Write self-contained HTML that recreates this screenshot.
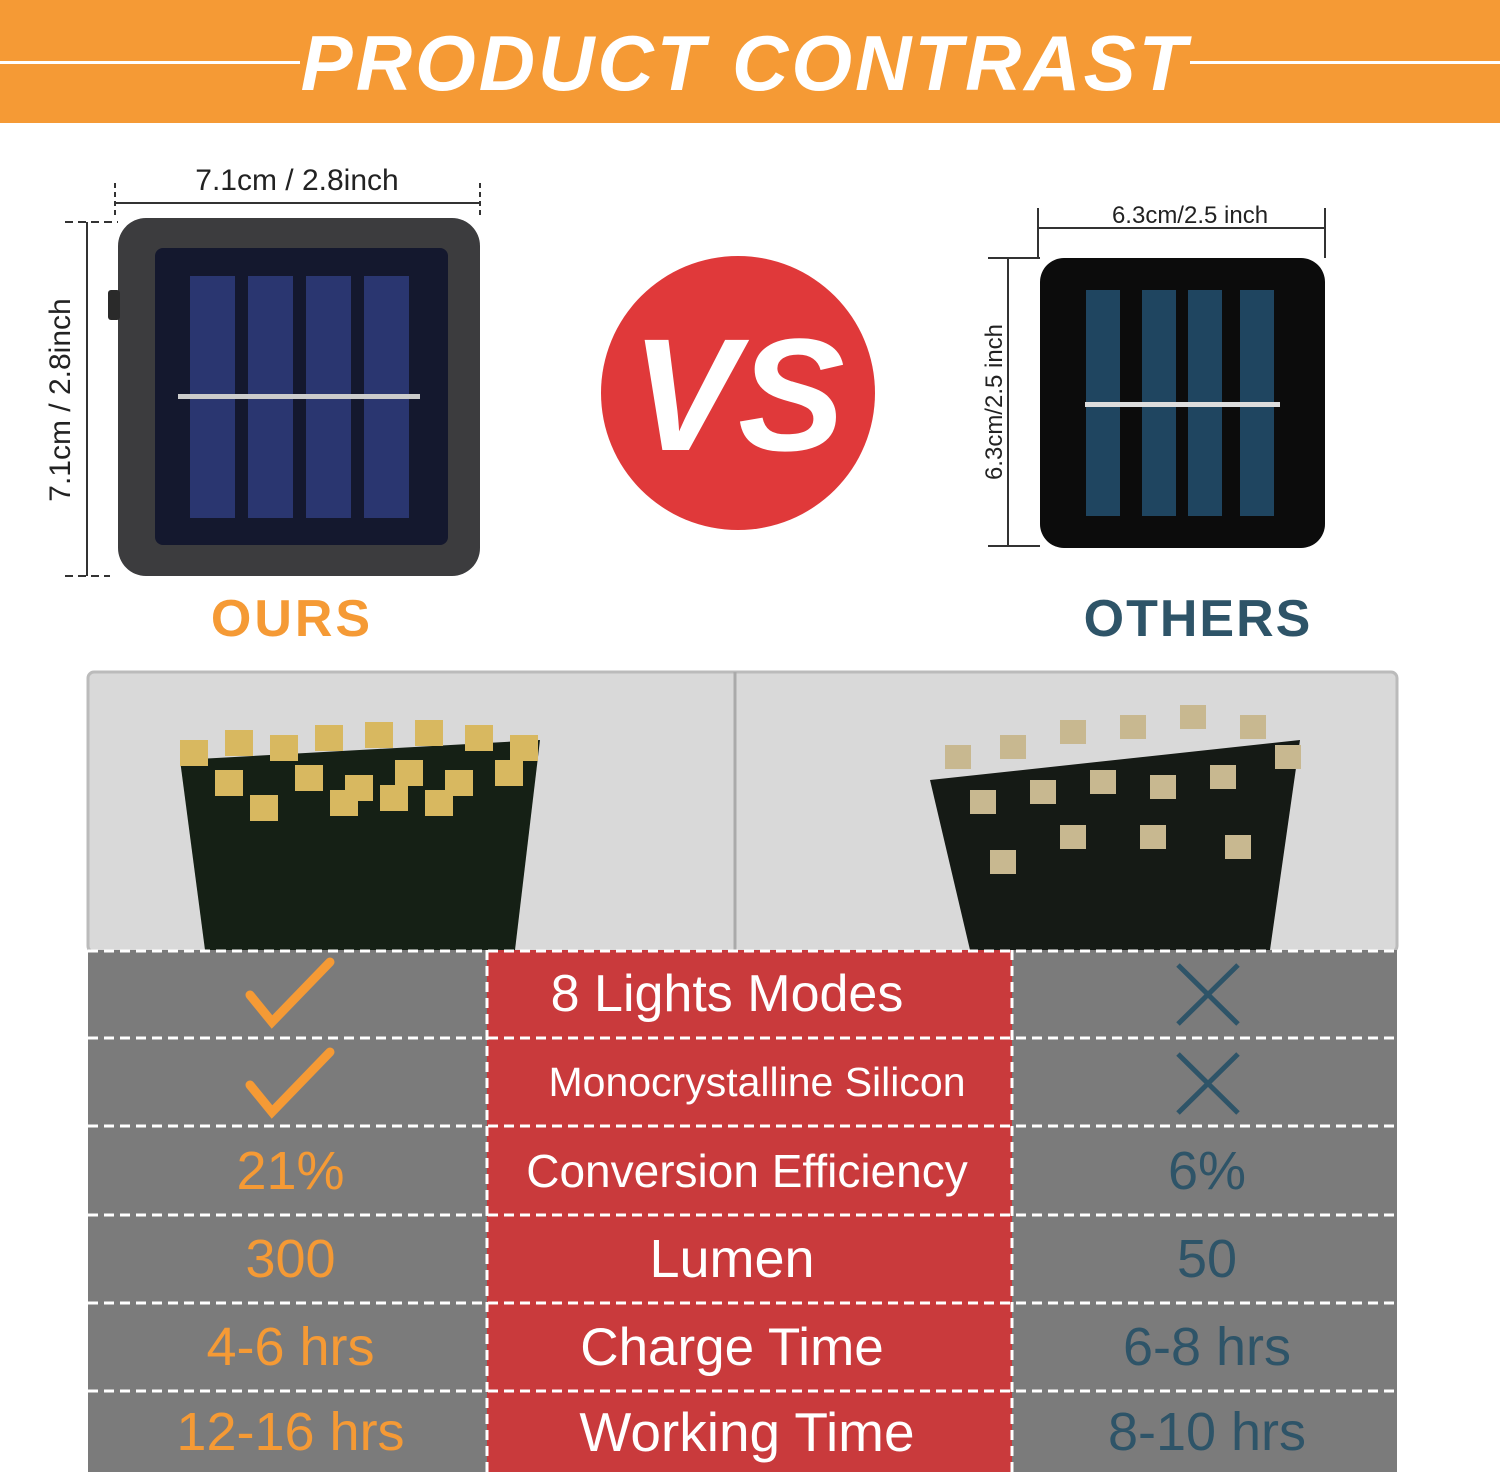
<!DOCTYPE html>
<html><head><meta charset="utf-8"><style>
body{margin:0;width:1500px;height:1477px;position:relative;background:#fff;overflow:hidden;font-family:"Liberation Sans","DejaVu Sans",sans-serif}
.a{position:absolute}
.cell{position:absolute;display:flex;align-items:center;justify-content:center;white-space:nowrap}
</style></head><body>
<div class="a" style="left:0;top:0;width:1500px;height:123px;background:#F59A35"></div>
<div class="a" style="left:0;top:61px;width:300px;height:3px;background:#fff"></div>
<div class="a" style="left:1190px;top:61px;width:310px;height:3px;background:#fff"></div>
<div class="cell" style="left:300px;top:18px;width:890px;height:90px;color:#fff;font-size:78px;font-weight:bold;font-style:italic;letter-spacing:3px">PRODUCT CONTRAST</div>

<svg class="a" style="left:0;top:123px" width="1500" height="830" viewBox="0 123 1500 830">
 <g stroke="#333" stroke-width="2" fill="none">
  <line x1="115" y1="203" x2="480" y2="203"/><line x1="115" y1="183" x2="115" y2="215" stroke-dasharray="5,4"/><line x1="480" y1="183" x2="480" y2="215" stroke-dasharray="5,4"/>
  <line x1="87" y1="222" x2="87" y2="576"/><line x1="65" y1="222" x2="118" y2="222" stroke-dasharray="8,5"/><line x1="65" y1="576" x2="110" y2="576" stroke-dasharray="8,5"/>
  <line x1="1038" y1="228" x2="1325" y2="228"/><line x1="1038" y1="208" x2="1038" y2="258"/><line x1="1325" y1="208" x2="1325" y2="258"/>
  <line x1="1008" y1="258" x2="1008" y2="546"/><line x1="988" y1="258" x2="1040" y2="258"/><line x1="988" y1="546" x2="1040" y2="546"/>
 </g>
 <text x="297" y="190" font-size="30" text-anchor="middle" fill="#222" font-family="Liberation Sans">7.1cm / 2.8inch</text>
 <text transform="translate(70,400) rotate(-90)" font-size="30" text-anchor="middle" fill="#222" font-family="Liberation Sans">7.1cm / 2.8inch</text>
 <text x="1190" y="223" font-size="24" text-anchor="middle" fill="#222" font-family="Liberation Sans">6.3cm/2.5 inch</text>
 <text transform="translate(1002,402) rotate(-90)" font-size="24" text-anchor="middle" fill="#222" font-family="Liberation Sans">6.3cm/2.5 inch</text>
 <rect x="118" y="218" width="362" height="358" rx="28" fill="#3c3c3e"/>
 <rect x="108" y="290" width="12" height="30" rx="3" fill="#2a2a2a"/>
 <rect x="155" y="248" width="293" height="297" rx="8" fill="#14182e"/>
 <g fill="#2a3670"><rect x="190" y="276" width="45" height="242"/><rect x="248" y="276" width="45" height="242"/><rect x="306" y="276" width="45" height="242"/><rect x="364" y="276" width="45" height="242"/></g>
 <rect x="178" y="394" width="242" height="5" fill="#ccc"/>
 <circle cx="738" cy="393" r="137" fill="#E0393A"/>
 <text x="738" y="450" font-size="160" font-weight="bold" font-style="italic" text-anchor="middle" fill="#fff" font-family="Liberation Sans">VS</text>
 <rect x="1040" y="258" width="285" height="290" rx="24" fill="#0c0c0c"/>
 <g fill="#1f4560"><rect x="1086" y="290" width="34" height="226"/><rect x="1142" y="290" width="34" height="226"/><rect x="1188" y="290" width="34" height="226"/><rect x="1240" y="290" width="34" height="226"/></g>
 <rect x="1085" y="402" width="195" height="5" fill="#ddd"/>
 <text x="292" y="636" font-size="52" font-weight="bold" text-anchor="middle" fill="#F59A35" font-family="Liberation Sans" letter-spacing="3">OURS</text>
 <text x="1198" y="636" font-size="52" font-weight="bold" text-anchor="middle" fill="#2E5468" font-family="Liberation Sans" letter-spacing="2">OTHERS</text>
 <rect x="88" y="672" width="1309" height="280" rx="6" fill="#d9d9d9" stroke="#bbb" stroke-width="3"/>
 <line x1="735" y1="672" x2="735" y2="950" stroke="#aaa" stroke-width="3"/>
 <path d="M180 760 L540 740 L515 950 L205 950 Z" fill="#152015"/>
 <g fill="#d8b860">
  <rect x="180" y="740" width="28" height="26"/><rect x="225" y="730" width="28" height="26"/><rect x="270" y="735" width="28" height="26"/><rect x="315" y="725" width="28" height="26"/><rect x="365" y="722" width="28" height="26"/><rect x="415" y="720" width="28" height="26"/><rect x="465" y="725" width="28" height="26"/><rect x="510" y="735" width="28" height="26"/>
  <rect x="215" y="770" width="28" height="26"/><rect x="295" y="765" width="28" height="26"/><rect x="345" y="775" width="28" height="26"/><rect x="395" y="760" width="28" height="26"/><rect x="445" y="770" width="28" height="26"/><rect x="495" y="760" width="28" height="26"/>
  <rect x="250" y="795" width="28" height="26"/><rect x="330" y="790" width="28" height="26"/><rect x="380" y="785" width="28" height="26"/><rect x="425" y="790" width="28" height="26"/>
 </g>
 <path d="M930 780 L1300 740 L1270 950 L970 950 Z" fill="#151a15"/>
 <g fill="#c8b890">
  <rect x="945" y="745" width="26" height="24"/><rect x="1000" y="735" width="26" height="24"/><rect x="1060" y="720" width="26" height="24"/><rect x="1120" y="715" width="26" height="24"/><rect x="1180" y="705" width="26" height="24"/><rect x="1240" y="715" width="26" height="24"/><rect x="1275" y="745" width="26" height="24"/>
  <rect x="970" y="790" width="26" height="24"/><rect x="1030" y="780" width="26" height="24"/><rect x="1090" y="770" width="26" height="24"/><rect x="1150" y="775" width="26" height="24"/><rect x="1210" y="765" width="26" height="24"/>
  <rect x="990" y="850" width="26" height="24"/><rect x="1060" y="825" width="26" height="24"/><rect x="1140" y="825" width="26" height="24"/><rect x="1225" y="835" width="26" height="24"/>
 </g>
</svg>

<div class="a" style="left:88px;top:950px;width:399px;height:522px;background:#7b7b7b"></div>
<div class="a" style="left:487px;top:950px;width:525px;height:522px;background:#C93A3C"></div>
<div class="a" style="left:1012px;top:950px;width:385px;height:522px;background:#7b7b7b"></div>
<svg class="a" style="left:0;top:0" width="1500" height="1477">
 <g stroke="#fff" stroke-width="3" stroke-dasharray="10,6">
  <line x1="88" y1="951" x2="1397" y2="951"/><line x1="88" y1="1038" x2="1397" y2="1038"/><line x1="88" y1="1126" x2="1397" y2="1126"/><line x1="88" y1="1215" x2="1397" y2="1215"/><line x1="88" y1="1303" x2="1397" y2="1303"/><line x1="88" y1="1391" x2="1397" y2="1391"/>
  <line x1="487" y1="950" x2="487" y2="1472"/><line x1="1012" y1="950" x2="1012" y2="1472"/>
 </g>
 <g stroke="#F59A35" stroke-width="9" fill="none" stroke-linecap="round">
  <path d="M250 995 L272 1022 L330 962"/><path d="M250 1085 L272 1112 L330 1052"/>
 </g>
 <g stroke="#2E5468" stroke-width="5">
  <line x1="1178" y1="965" x2="1238" y2="1024"/><line x1="1238" y1="965" x2="1178" y2="1024"/>
  <line x1="1178" y1="1054" x2="1238" y2="1113"/><line x1="1238" y1="1054" x2="1178" y2="1113"/>
 </g>
</svg>
<div class="cell" style="left:487px;top:950px;width:480px;height:88px;color:#fff;font-size:52px">8 Lights Modes</div>
<div class="cell" style="left:487px;top:1038px;width:540px;height:88px;color:#fff;font-size:41px">Monocrystalline Silicon</div>
<div class="cell" style="left:487px;top:1126px;width:520px;height:89px;color:#fff;font-size:46px">Conversion Efficiency</div>
<div class="cell" style="left:487px;top:1215px;width:490px;height:88px;color:#fff;font-size:54px">Lumen</div>
<div class="cell" style="left:487px;top:1303px;width:490px;height:88px;color:#fff;font-size:53px">Charge Time</div>
<div class="cell" style="left:487px;top:1391px;width:520px;height:81px;color:#fff;font-size:55px">Working Time</div>
<div class="cell" style="left:88px;top:1126px;width:405px;height:89px;color:#F59A35;font-size:54px">21%</div>
<div class="cell" style="left:88px;top:1215px;width:405px;height:88px;color:#F59A35;font-size:54px">300</div>
<div class="cell" style="left:88px;top:1303px;width:405px;height:88px;color:#F59A35;font-size:54px">4-6 hrs</div>
<div class="cell" style="left:88px;top:1391px;width:405px;height:81px;color:#F59A35;font-size:54px">12-16 hrs</div>
<div class="cell" style="left:1012px;top:1126px;width:390px;height:89px;color:#2E5468;font-size:54px">6%</div>
<div class="cell" style="left:1012px;top:1215px;width:390px;height:88px;color:#2E5468;font-size:54px">50</div>
<div class="cell" style="left:1012px;top:1303px;width:390px;height:88px;color:#2E5468;font-size:54px">6-8 hrs</div>
<div class="cell" style="left:1012px;top:1391px;width:390px;height:81px;color:#2E5468;font-size:54px">8-10 hrs</div>
</body></html>
